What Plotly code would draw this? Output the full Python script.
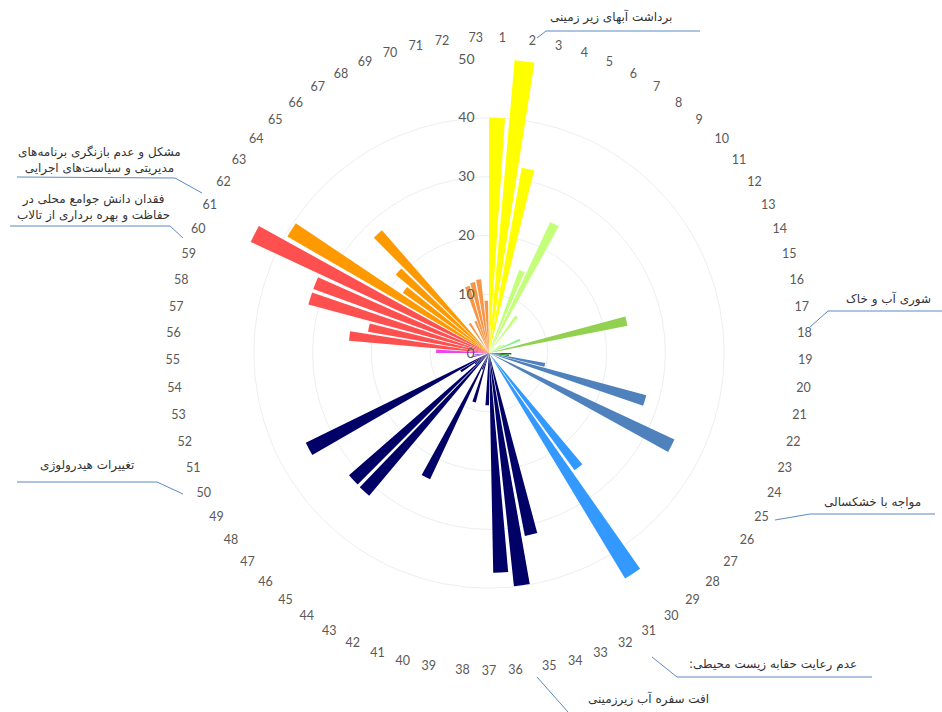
import plotly.graph_objects as go

# ---------------- data ----------------
angular_labels = [str(k) for k in range(1, 74)]   # 73 angular tick labels
n_bar_slots = 72                                     # bars are spaced on 72 slots

yellow_slots = [1, 2, 3]
yellow_vals = [40, 50, 32]

lightgreen_slots = [5, 6, 8, 12, 13]
lightgreen_vals = [15, 24.6, 7.8, 2.5, 3]

mint_slots = [14]
mint_vals = [5.7]

green_slots = [16]
green_vals = [24]

darkgreen_slots = [19, 20]
darkgreen_vals = [3.8, 3.4]

steelblue_slots = [21, 22, 24]
steelblue_vals = [9.7, 27.7, 34.8]

lightblue_slots = [29, 30]
lightblue_vals = [24.7, 44.8]

navy_slots = [34, 35, 36, 37, 40, 41, 42, 45, 46, 47, 48, 49]
navy_vals = [31.7, 39.9, 37.4, 8.9, 8.7, 3, 23.7, 31.7, 31.6, 3, 5.7, 34.7]

purple_slots = [52, 53]
purple_vals = [3, 2.5]

magenta_slots = [55]
magenta_vals = [9]

red_slots = [56, 57, 58, 59, 60]
red_vals = [23.9, 20.9, 31.8, 31.8, 44.7]

orange_slots = [61, 62, 63, 64]
orange_vals = [39.6, 17.9, 20.7, 27.7]

lightorange_slots = [66, 68, 69, 70, 71, 72]
lightorange_vals = [6.0, 5.9, 11.9, 12.3, 12.6, 8.9]

groups = [
    (yellow_slots, yellow_vals, "#FFFF00"),
    (lightgreen_slots, lightgreen_vals, "#C4FF7C"),
    (mint_slots, mint_vals, "#7DF58A"),
    (green_slots, green_vals, "#92D050"),
    (darkgreen_slots, darkgreen_vals, "#008000"),
    (steelblue_slots, steelblue_vals, "#4F81BD"),
    (lightblue_slots, lightblue_vals, "#3399FF"),
    (navy_slots, navy_vals, "#000066"),
    (purple_slots, purple_vals, "#8040C0"),
    (magenta_slots, magenta_vals, "#EE44EE"),
    (red_slots, red_vals, "#FF5050"),
    (orange_slots, orange_vals, "#FF9900"),
    (lightorange_slots, lightorange_vals, "#F79646"),
]

radial_ticks = [0, 10, 20, 30, 40, 50]

# annotation texts
txt_top = "برداشت آبهای زیر زمینی"
txt_salinity = "شوری آب و خاک"
txt_drought = "مواجه با خشکسالی"
txt_env = ":عدم رعایت حقابه زیست محیطی"
txt_aquifer = "افت سفره آب زیرزمینی"
txt_hydro = "تغییرات هیدرولوژی"
txt_knowledge = "فقدان دانش جوامع محلی در<br>حفاظت و بهره برداری از تالاب"
txt_policy = "مشکل و عدم بازنگری برنامه\u200cهای<br>مدیریتی و سیاست\u200cهای اجرایی"

# ---------------- figure ----------------
W, H = 942, 712
L, T, S = 195, 59, 588

slot_deg = 360 / n_bar_slots
bar_w = slot_deg * 0.78
lab_deg = 360 / len(angular_labels)

fig = go.Figure()
for slots, vals, col in groups:
    fig.add_trace(go.Barpolar(
        r=vals,
        theta=[(s - 1) * slot_deg + bar_w / 2 for s in slots],
        width=[bar_w] * len(slots),
        marker=dict(color=col, line=dict(width=0)),
        showlegend=False,
        hoverinfo="r",
    ))


def P(x, y):
    return (x - L) / S, 1 - (y - T) / S


line_col = "#5B8AC6"
leaders = [
    [(537, 38), (546, 31), (700, 31)],
    [(810, 327), (828, 311), (942, 311)],
    [(775, 520), (810, 514), (935, 514)],
    [(652, 657), (677, 677), (872, 677)],
    [(537, 677), (568, 712)],
    [(183, 494), (157, 482), (17, 482)],
    [(183, 238), (170, 226), (10, 226)],
    [(202, 193), (175, 178), (17, 177)],
]
shapes = []
for pts in leaders:
    for (x0, y0), (x1, y1) in zip(pts[:-1], pts[1:]):
        a0, b0 = P(x0, y0)
        a1, b1 = P(x1, y1)
        shapes.append(dict(type="line", xref="paper", yref="paper",
                           x0=a0, y0=b0, x1=a1, y1=b1,
                           line=dict(color=line_col, width=1)))

labels = [
    (txt_top, 611, 17),
    (txt_salinity, 888, 299),
    (txt_drought, 872, 503),
    (txt_env, 773, 664),
    (txt_aquifer, 648, 699),
    (txt_hydro, 87, 465),
    (txt_knowledge, 93, 207),
    (txt_policy, 100, 160),
]
annotations = []
for t, x, y in labels:
    ax, ay = P(x, y)
    annotations.append(dict(text=t, x=ax, y=ay, xref="paper", yref="paper",
                            xanchor="center", yanchor="middle", showarrow=False,
                            align="center",
                            font=dict(family="DejaVu Sans", size=12, color="#333333")))

fig.update_layout(
    width=W, height=H,
    margin=dict(l=L, r=W - L - S, t=T, b=H - T - S, pad=0),
    paper_bgcolor="white",
    plot_bgcolor="white",
    bargap=0,
    polar=dict(
        bgcolor="white",
        domain=dict(x=[0, 1], y=[0, 1]),
        radialaxis=dict(
            range=[0, 50], tickvals=radial_ticks, ticktext=[str(v) for v in radial_ticks],
            angle=90, side="counterclockwise", tickangle=90,
            showline=False, ticks="outside", ticklen=9, tickcolor="rgba(0,0,0,0)",
            gridcolor="#ECEEF2", gridwidth=1,
            tickfont=dict(family="Lato", size=14, color="#595959"),
        ),
        angularaxis=dict(
            rotation=90, direction="clockwise", thetaunit="degrees",
            tickmode="array",
            tickvals=[(k - 0.5) * lab_deg for k in range(1, len(angular_labels) + 1)],
            ticktext=angular_labels,
            showline=False, showgrid=False,
            ticks="outside", ticklen=12, tickcolor="rgba(0,0,0,0)",
            tickfont=dict(family="Lato", size=12.5, color="#595959"),
        ),
    ),
    shapes=shapes,
    annotations=annotations,
)

fig.write_html("out.html")
